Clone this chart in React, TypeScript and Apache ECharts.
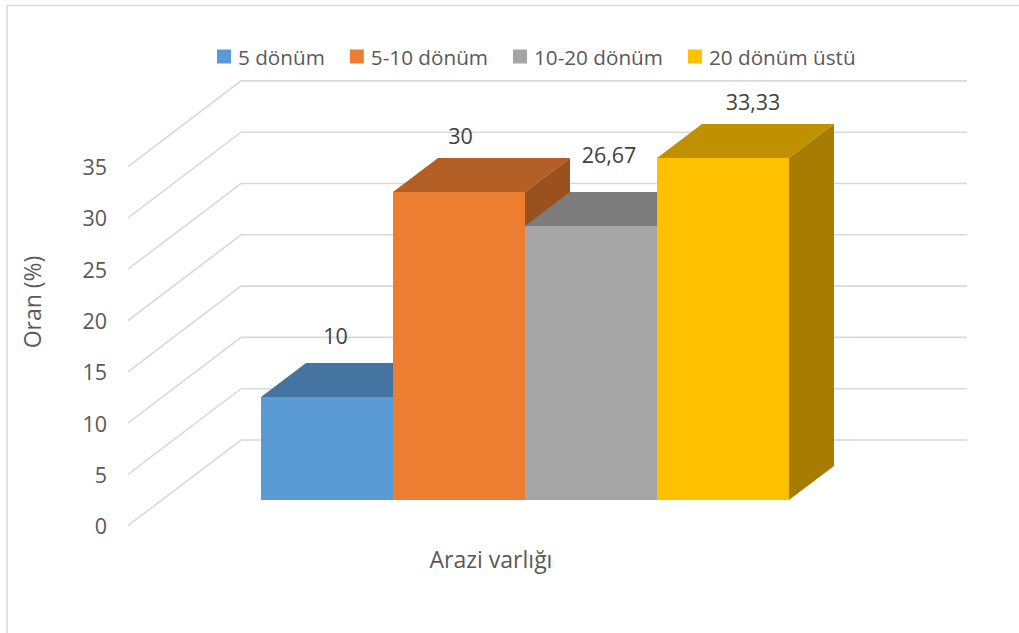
import React, { useEffect, useRef } from "react";
import * as echarts from "echarts";

const categories = ["Arazi varlığı"];
const seriesNames = ["5 dönüm", "5-10 dönüm", "10-20 dönüm", "20 dönüm üstü"];
const seriesValues = [10, 30, 26.67, 33.33];
const seriesColors = ["#5B9BD5", "#ED7D31", "#A5A5A5", "#FFC000"];
const topColors = ["#44749F", "#B25E25", "#7C7C7C", "#BF9000"];
const sideColors = ["#3B658A", "#9A5120", "#6B6B6B", "#A67D00"];
const yTicks = [0, 5, 10, 15, 20, 25, 30, 35];
// Data labels were moved by hand in the reference: nudges from the bar's front-top centre.
const labelNudgeX = [8.5, 1.5, 18, 30];
const labelNudgeY = [-62, -57, -72, -57];

const FONT = "'Open Sans'";
const TEXT = "#595959";
const GRID = "#D9D9D9";
const DEPTH_X = 113;
const DEPTH_Y = -85.7;
const BAR_DEPTH_START = 0.3;
const BAR_DEPTH = 0.4;
const GAP = 1.5;

const gridSeries: any = {
  type: "custom",
  name: "grid",
  silent: true,
  z: 1,
  data: yTicks.map((t) => [0, t]),
  encode: { x: 0, y: 1 },
  renderItem(params: any, api: any) {
    const cs = params.coordSys;
    const y = api.coord([0, api.value(1)])[1];
    return {
      type: "polyline",
      shape: {
        points: [
          [cs.x, y],
          [cs.x + DEPTH_X, y + DEPTH_Y],
          [cs.x + cs.width + DEPTH_X, y + DEPTH_Y],
        ],
      },
      style: { stroke: GRID, lineWidth: 1.6, fill: "none" },
    };
  },
};

const barSeries: any[] = seriesNames.map((name, i) => ({
  type: "custom",
  name,
  silent: true,
  z: 2 + i,
  itemStyle: { color: seriesColors[i] },
  data: [[0, seriesValues[i]]],
  encode: { x: 0, y: 1 },
  renderItem(_params: any, api: any) {
    const top = api.coord([0, api.value(1)]);
    const base = api.coord([0, 0]);
    const band = api.size([1, 0])[0];
    const w = band / (seriesNames.length + GAP);
    const ox = DEPTH_X * BAR_DEPTH_START;
    const oy = DEPTH_Y * BAR_DEPTH_START;
    const dx = Math.round(DEPTH_X * BAR_DEPTH);
    const dy = Math.round(DEPTH_Y * BAR_DEPTH);
    const x0 = Math.round(top[0] - (w * seriesNames.length) / 2 + i * w + ox);
    const x1 = Math.round(top[0] - (w * seriesNames.length) / 2 + (i + 1) * w + ox);
    const yT = Math.round(top[1] + oy);
    const yB = Math.round(base[1] + oy);
    const label = String(seriesValues[i]).replace(".", ",");
    return {
      type: "group",
      children: [
        {
          type: "polygon",
          shape: { points: [[x0, yT], [x1, yT], [x1 + dx, yT + dy], [x0 + dx, yT + dy]] },
          style: { fill: topColors[i] },
        },
        {
          type: "polygon",
          shape: { points: [[x1, yT], [x1 + dx, yT + dy], [x1 + dx, yB + dy], [x1, yB]] },
          style: { fill: sideColors[i] },
        },
        {
          type: "polygon",
          shape: { points: [[x0, yT], [x1, yT], [x1, yB], [x0, yB]] },
          style: { fill: seriesColors[i] },
        },
        {
          type: "text",
          z2: 100,
          style: {
            text: label,
            x: (x0 + x1) / 2 + labelNudgeX[i],
            y: yT + labelNudgeY[i],
            align: "center",
            verticalAlign: "middle",
            font: `21.5px ${FONT}`,
            fill: "#404040",
          },
        },
      ],
    };
  },
}));

export default function App() {
  const ref = useRef<HTMLDivElement>(null);
  useEffect(() => {
    const chart = echarts.init(ref.current!, undefined, { renderer: "svg" });
    chart.setOption({
      animation: false,
      backgroundColor: "#ffffff",
      legend: {
        data: seriesNames,
        left: 217,
        top: 46,
        icon: "rect",
        itemWidth: 14,
        itemHeight: 14,
        itemGap: 25,
        padding: 0,
        selectedMode: false,
        textStyle: { fontFamily: FONT, fontSize: 20.7, color: TEXT, padding: [0, 0, 0, 2] },
      },
      grid: { left: 128, top: 166.6, width: 726, height: 359.1 },
      xAxis: {
        type: "category",
        data: categories,
        axisLine: { show: false },
        axisTick: { show: false },
        axisLabel: { margin: 22, fontFamily: FONT, fontSize: 23, color: TEXT },
      },
      yAxis: {
        type: "value",
        min: 0,
        max: 35,
        interval: 5,
        axisLine: { show: false },
        axisTick: { show: false },
        splitLine: { show: false },
        axisLabel: { margin: 21, fontFamily: FONT, fontSize: 21.5, color: TEXT },
      },
      graphic: [
        {
          type: "rect",
          z: -1,
          shape: { x: 7, y: 5.5, width: 1100, height: 700 },
          style: { fill: "#ffffff", stroke: GRID, lineWidth: 1.5 },
        },
        {
          type: "text",
          x: 32,
          y: 302,
          rotation: Math.PI / 2,
          style: {
            text: "Oran (%)",
            align: "center",
            verticalAlign: "middle",
            font: `23px ${FONT}`,
            fill: TEXT,
          },
        },
      ],
      series: [gridSeries, ...barSeries],
    });
    return () => chart.dispose();
  }, []);
  return <div ref={ref} style={{ position: "fixed", left: 0, top: 0, width: 1019, height: 633 }} />;
}
